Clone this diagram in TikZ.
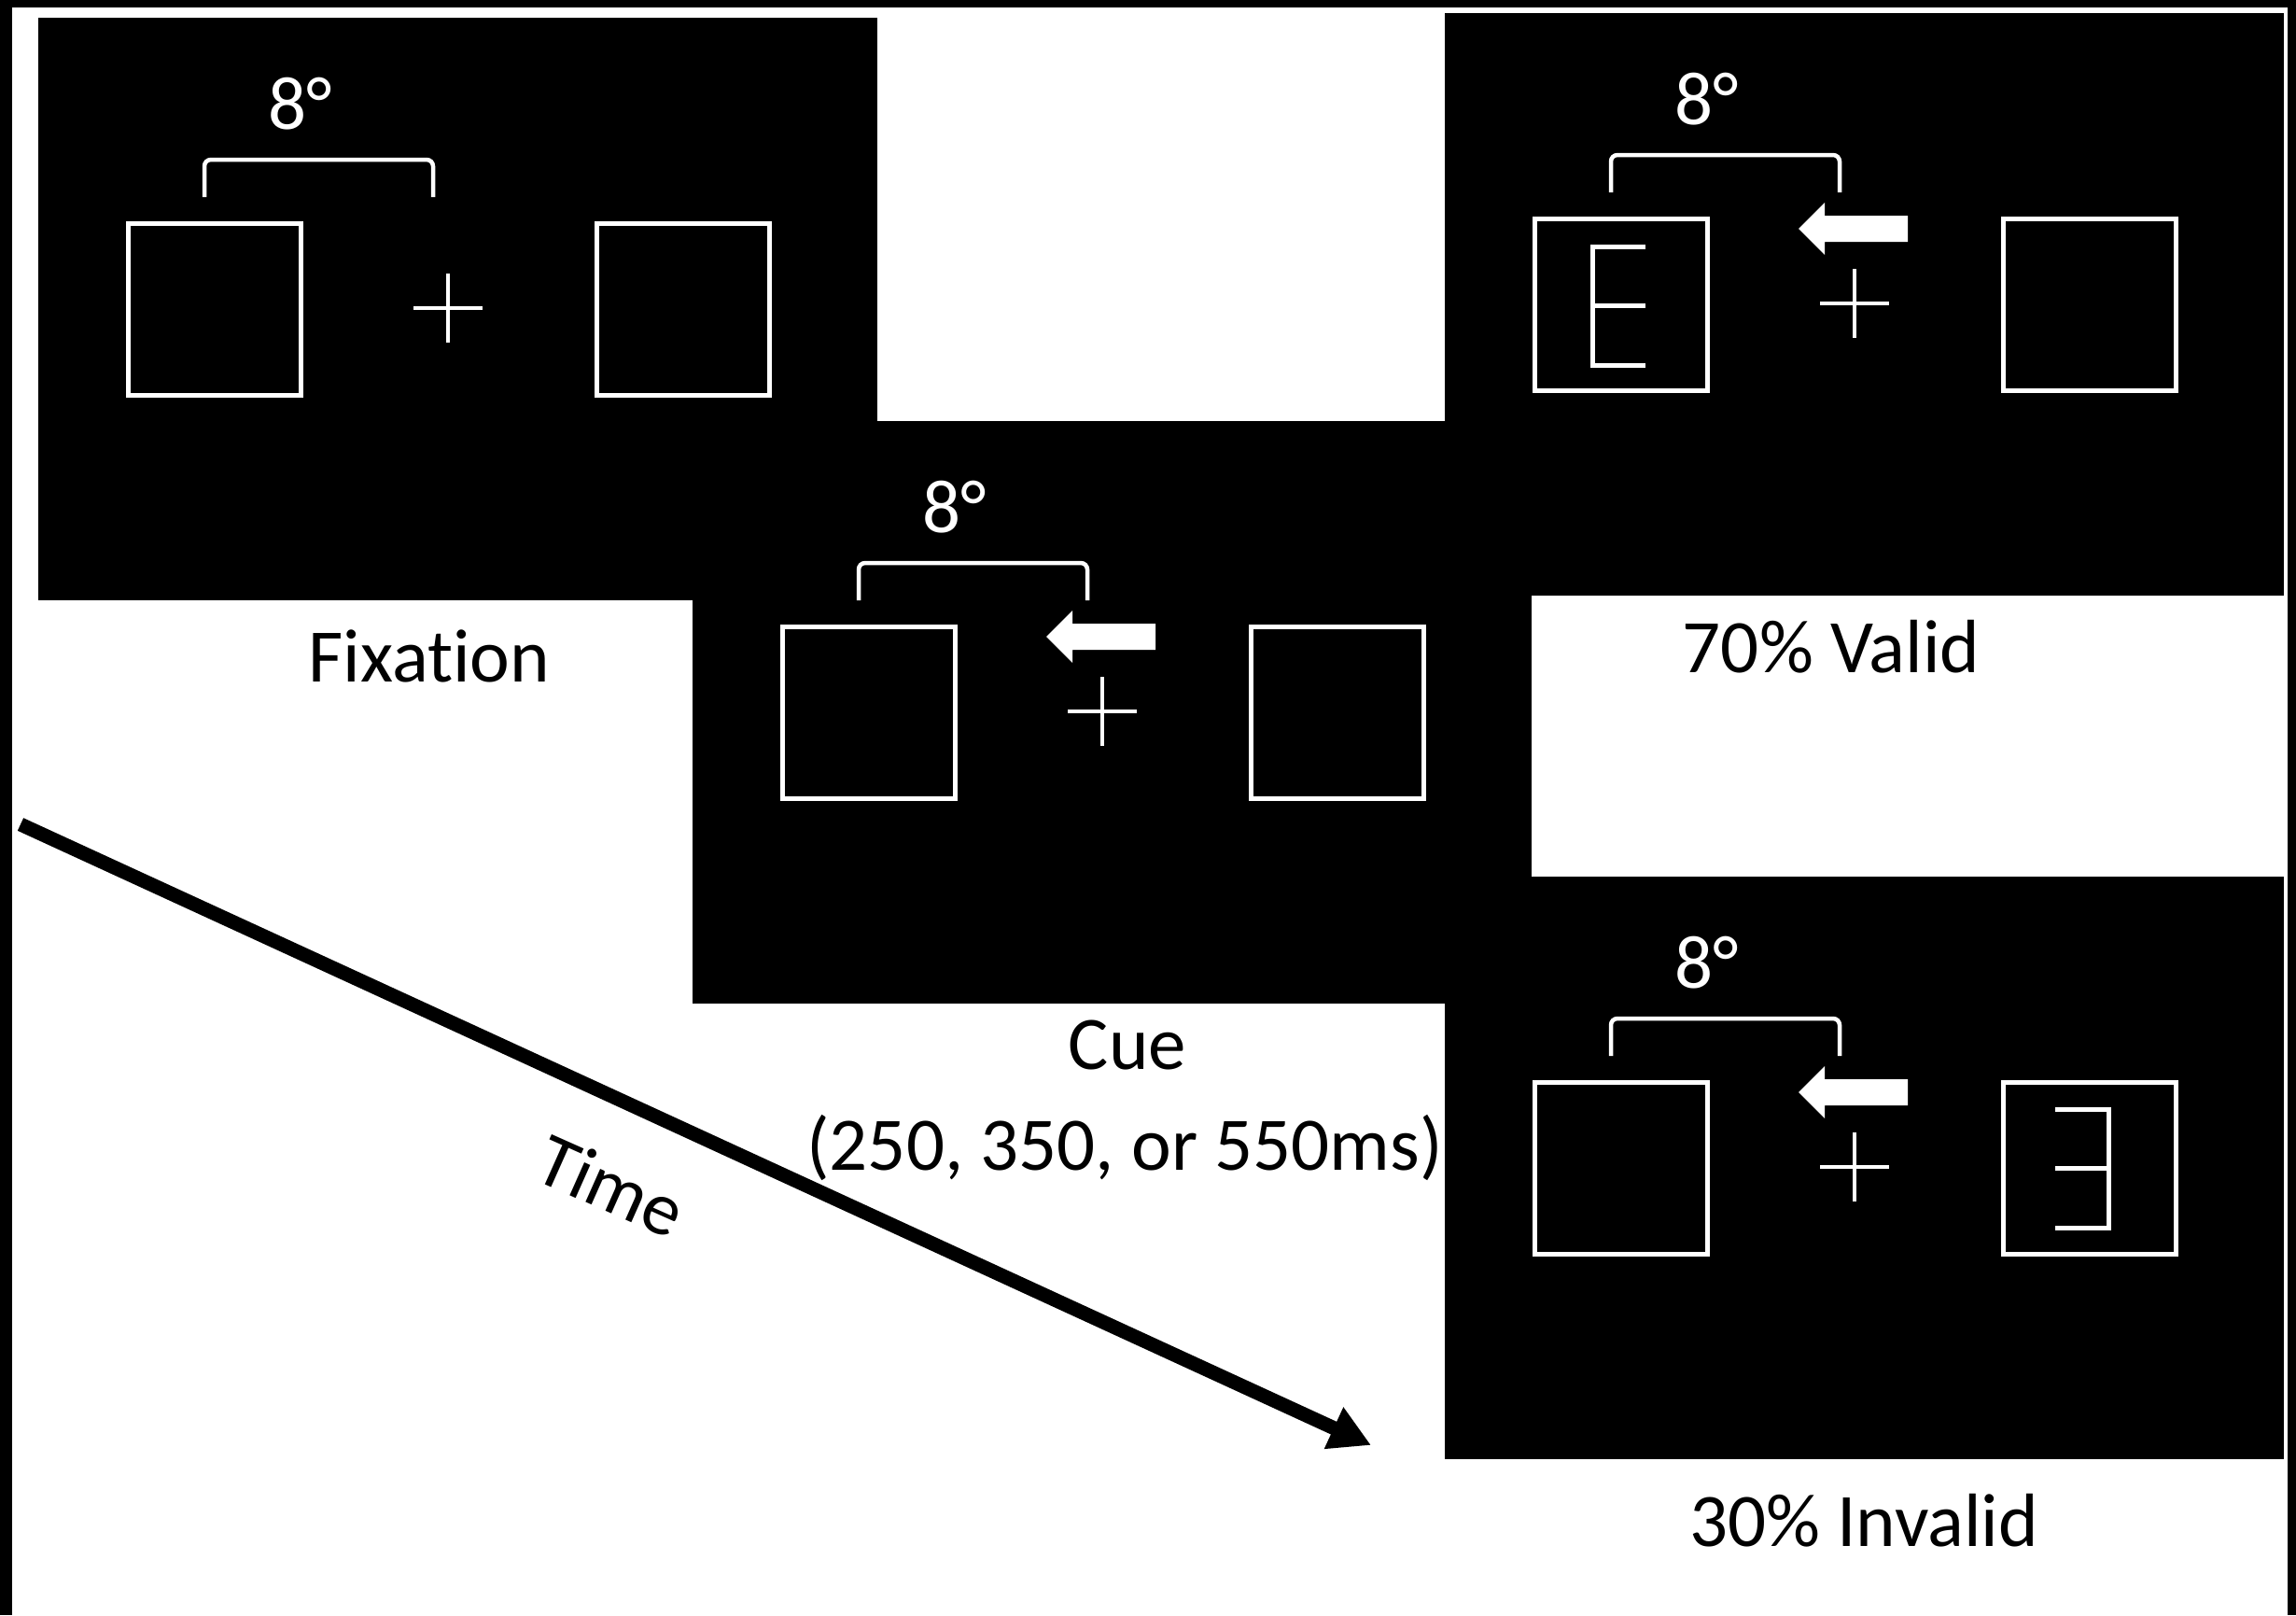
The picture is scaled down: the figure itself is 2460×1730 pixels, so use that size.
\documentclass[tikz,border=0pt]{standalone}
\usepackage{fontspec}
\setmainfont{Carlito}[Ligatures=CommonOff]
\usetikzlibrary{arrows.meta}

\tikzset{
  x=1pt, y=-1pt,
  txt/.style={font=\fontsize{81}{97}\selectfont, inner sep=0pt, anchor=base},
  boxline/.style={draw=white, line width=5pt},
  crossline/.style={draw=white, line width=3.5pt},
  letterline/.style={draw=white, line width=5pt},
  % one black display: bracket, 8 degree mark, two placeholders, fixation cross
  screen/.pic={
    \fill[black] (41,19) rectangle (940,643);
    \draw[white, line width=4.5pt, rounded corners=7pt]
      (219,211) -- (219,171) -- (464,171) -- (464,211);
    \node[txt, text=white] (-deg) at (322,138) {8°};
    \draw[boxline] (137.5,239.5) rectangle (322.5,423.5);
    \draw[boxline] (639.5,239.5) rectangle (824.5,423.5);
    \draw[crossline] (443,330) -- (517,330) (480,293) -- (480,367);
  },
  % central arrow cue pointing left
  cuearrow/.pic={
    \fill[white] (420,250) -- (448,222) -- (448,236) -- (537,236)
      -- (537,264) -- (448,264) -- (448,278) -- cycle;
  },
  % target letter E in the left placeholder
  targetleft/.pic={
    \draw[letterline] (256,269) -- (199,269) -- (199,396) -- (256,396)
      (199,332) -- (256,332);
  },
  % mirrored E in the right placeholder
  targetright/.pic={
    \draw[letterline] (695,268) -- (752,268) -- (752,395) -- (695,395)
      (695,331) -- (752,331);
  }
}

\begin{document}
\begin{tikzpicture}
  \useasboundingbox (0,0) rectangle (2460,1730);
  \fill[white] (0,0) rectangle (2460,1730);
  % outer frame strips
  \fill[black] (0,0) rectangle (13,1730);
  \fill[black] (0,0) rectangle (2460,8);
  \fill[black] (2451,0) rectangle (2460,1730);

  % fixation display
  \pic (fix) at (0,0) {screen};
  % cue display
  \pic (cue) at (701,432) {screen};
  \pic (cuea) at (701,432) {cuearrow};
  % valid target display
  \pic (val) at (1507,-5) {screen};
  \pic (vala) at (1507,-5) {cuearrow};
  \pic (valt) at (1507,-5) {targetleft};
  % invalid target display
  \pic (inv) at (1507,920) {screen};
  \pic (inva) at (1507,920) {cuearrow};
  \pic (invt) at (1507,920) {targetright};

  % captions
  \node[txt] (fixlabel) at (460,730) {Fixation};
  \node[txt] (cuelabel) at (1208,1145) {Cue};
  \node[txt] (cuetime) at (1205,1253) {(250, 350, or 550ms)};
  \node[txt] (vallabel) at (1962,720) {70\% Valid};
  \node[txt] (invlabel) at (1997,1656) {30\% Invalid};

  % time axis
  \coordinate (tstart) at (22,883);
  \coordinate (tend) at (1469,1548);
  \draw[line width=15pt, -{Triangle[length=44pt,width=46pt]}] (tstart) -- (tend);
  \node[txt, anchor=center, rotate=-24] (timelabel) at (655,1270) {Time};
\end{tikzpicture}
\end{document}
